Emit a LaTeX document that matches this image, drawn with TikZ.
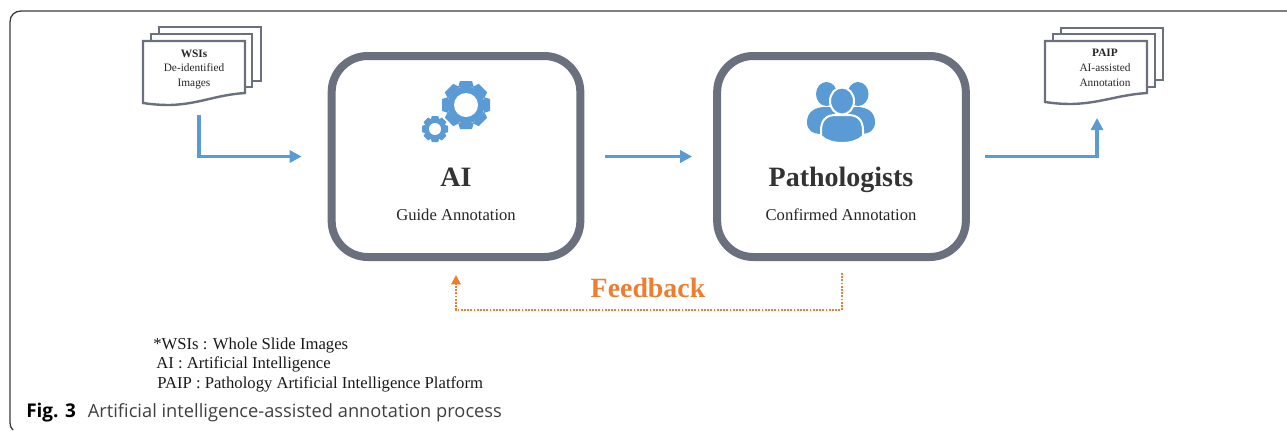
\documentclass[tikz,border=0pt]{standalone}
\usepackage{fontspec}
\usepackage{amsmath}
\setmainfont{Liberation Serif}
\newfontfamily\capfont{Open Sans}
\usetikzlibrary{arrows.meta}
\definecolor{boxgray}{RGB}{107,112,126}
\definecolor{iconblue}{RGB}{91,155,213}
\definecolor{fborange}{RGB}{237,125,49}
\definecolor{framegray}{RGB}{60,60,60}
\tikzset{
  stepbox/.style={draw=boxgray,line width=6pt,rounded corners=27pt,fill=white,minimum width=186.5pt,minimum height=150.75pt,inner sep=0pt},
  sheet/.style={draw=boxgray,line width=1.8pt,fill=white,line join=miter},
  flow/.style={draw=iconblue,line width=2.3pt,-{Triangle[length=9pt,width=9pt]}},
  back/.style={draw=fborange,line width=1.5pt,dash pattern=on 1.3pt off 1.1pt,-{Triangle[length=7pt,width=7pt]}},
  doctext/.style={font=\fontsize{8.5pt}{10pt}\selectfont,inner sep=0pt,align=center,text=black!85},
  keytext/.style={font=\fontsize{12.5pt}{14pt}\selectfont,inner sep=0pt,anchor=base west,text=black!90},
  titletext/.style={inner sep=0pt,anchor=base,font=\fontsize{21pt}{24pt}\selectfont\bfseries,text=black!80},
  subtext/.style={inner sep=0pt,font=\fontsize{12.45pt}{14pt}\selectfont,text=black!85},
}
\begin{document}
\begin{tikzpicture}[x=0.75pt,y=0.75pt,yscale=-1,xscale=1]
\useasboundingbox (0,0) rectangle (1287,430);

%Frame of the figure
\draw [framegray,line width=1pt] (1287,11) -- (21,11) .. controls (15,11) and (10,15) .. (10,22) -- (10,423) .. controls (10,426) and (11,428) .. (13,430) ;

%Stacked sheets, left
\draw [sheet] (159,27) -- (261,27) -- (261,81) -- (159,81) -- cycle ;
\draw [sheet] (151,34) -- (252,34) -- (252,87) -- (151,87) -- cycle ;
\draw [sheet] (143,41) -- (245,41) -- (245,93) .. controls (215,95) and (200,104) .. (170,105) .. controls (158,105) and (150,104) .. (143,103) -- cycle ;
%Stacked sheets, right
\draw [sheet] (1061,28) -- (1163,28) -- (1163,80) -- (1061,80) -- cycle ;
\draw [sheet] (1053,34) -- (1155,34) -- (1155,87) -- (1053,87) -- cycle ;
\draw [sheet] (1045,41) -- (1147,41) -- (1147,93) .. controls (1117,95) and (1102,103) .. (1072,104) .. controls (1060,104) and (1052,103) .. (1045,102) -- cycle ;

% Text Node
\node (wsihead) [doctext] at (194,54) {\textbf{WSIs}};
\node (wsitext) [doctext] at (194,76) {De-identified\\[1.2pt]Images};
\node (paiphead) [doctext] at (1105,53) {\textbf{PAIP}};
\node (paiptext) [doctext] at (1105,75.5) {AI-assisted\\[1.2pt]Annotation};

%Main boxes
\node (aibox) [stepbox] at (456,156.5) {};
\node (pathbox) [stepbox] at (841.5,156.5) {};

%Gears
\foreach \cx/\cy/\ro/\ri/\hole/\tw/\tt in {466/105/24/18.5/12/8/6,435/129/13/9.5/6/4.4/3.2}{
  \fill [iconblue] (\cx,\cy) circle [radius=\ri];
  \foreach \ang in {0,45,...,315}{
    \fill [iconblue,shift={(\cx,\cy)},rotate=\ang] (\ri-1,-\tw) -- (\ro,-\tt) -- (\ro,\tt) -- (\ri-1,\tw) -- cycle ;
  }
  \fill [white] (\cx,\cy) circle [radius=\hole];
}

%People
\fill [iconblue] (826.5,94) ellipse [x radius=10.5,y radius=12];
\fill [iconblue] (858,94) ellipse [x radius=10.5,y radius=12];
\fill [iconblue] (807,122) .. controls (807,112) and (815,107) .. (825,107) -- (835,107) -- (835,134) -- (822,134) .. controls (812,134) and (807,130) .. (807,122) -- cycle ;
\fill [iconblue] (875,122) .. controls (875,112) and (867,107) .. (857,107) -- (847,107) -- (847,134) -- (860,134) .. controls (870,134) and (875,130) .. (875,122) -- cycle ;
\filldraw [iconblue,draw=white,line width=1.5pt] (842,101) ellipse [x radius=12,y radius=13.5];
\filldraw [iconblue,draw=white,line width=1.5pt] (821,131) .. controls (821,120) and (826,115) .. (836,115) -- (848,115) .. controls (858,115) and (863,120) .. (863,131) -- (863,136) .. controls (858,141) and (850,143) .. (842,143) .. controls (834,143) and (826,141) .. (821,136) -- cycle ;

% Text Node
\node (aititle) [titletext] at (456,186) {AI};
\node (aisub) [subtext] at (456,215) {Guide Annotation};
\node (pathtitle) [titletext] at (841,186) {Pathologists};
\node (pathsub) [subtext] at (841,215) {Confirmed Annotation};
\node (fbtext) [inner sep=0pt,anchor=base,font=\fontsize{20.9pt}{24pt}\selectfont\bfseries,text=fborange] at (648,297) {Feedback};

%Connectors
\coordinate (wsiout) at (199,115);
\coordinate (paipin) at (1097,118);
\draw [flow,shorten >=26*0.75pt] (wsiout) |- (aibox.west);
\draw [flow,shorten <=21*0.75pt,shorten >=21*0.75pt] (aibox.east) -- (pathbox.west);
\draw [flow,shorten <=15*0.75pt] (pathbox.east) -| (paipin);
\coordinate (fbleft) at (aibox.south |- 0,310);
\draw [back,shorten <=12*0.75pt,shorten >=14*0.75pt] (pathbox.south) |- (fbleft) -- (aibox.south);

% Text Node
\node (keywsi) [keytext] at (153,349) {*WSIs : Whole Slide Images};
\node (keyai) [keytext] at (156,368) {AI : Artificial Intelligence};
\node (keypaip) [keytext] at (157,388) {PAIP : Pathology Artificial Intelligence Platform};
\node (figcap) [inner sep=0pt,anchor=base west,font=\capfont\fontsize{13.7pt}{16pt}\selectfont,text=black!75] at (26,417) {\textcolor{black}{\textbf{\fontsize{14.2pt}{16pt}\selectfont Fig. 3}}\hspace{9pt}Artificial intelligence-assisted annotation process};

\end{tikzpicture}
\end{document}
